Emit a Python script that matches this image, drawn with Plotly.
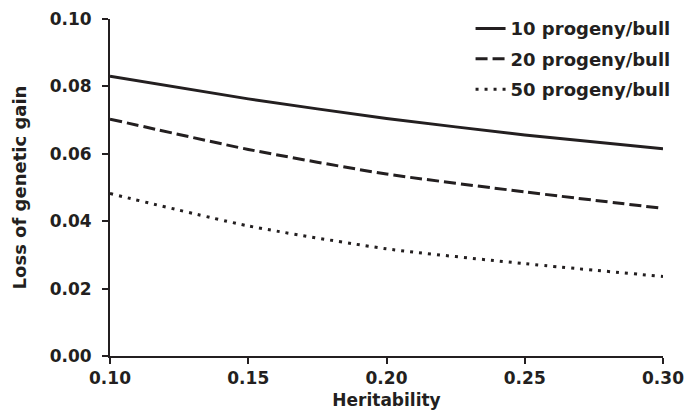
import plotly.graph_objects as go

heritability = [0.10, 0.15, 0.20, 0.25, 0.30]
loss_10 = [0.0830, 0.0763, 0.0705, 0.0656, 0.0615]
loss_20 = [0.0703, 0.0613, 0.0540, 0.0487, 0.0438]
loss_50 = [0.0482, 0.0386, 0.0318, 0.0274, 0.0236]
series_names = ["10 progeny/bull", "20 progeny/bull", "50 progeny/bull"]
x_ticks = [0.10, 0.15, 0.20, 0.25, 0.30]
y_ticks = [0.00, 0.02, 0.04, 0.06, 0.08, 0.10]

ink = "#231f20"
font_family = "DejaVu Sans, Liberation Sans, Arial, sans-serif"

fig = go.Figure()
styles = ["solid", "12px,5px", "3px,6px"]
for i, (name, vals, dash) in enumerate(zip(series_names, [loss_10, loss_20, loss_50], styles)):
    fig.add_trace(go.Scatter(
        x=heritability, y=vals, name=name, mode="lines", legendgroup=f"g{i}",
        line=dict(color=ink, width=3, dash=dash, shape="spline", smoothing=0.6),
    ))

fig.update_layout(
    width=685, height=414,
    margin=dict(l=110, r=22, t=19, b=58, autoexpand=False),
    plot_bgcolor="white", paper_bgcolor="white",
    font=dict(family=font_family, color=ink, size=17, weight="bold"),
    showlegend=True,
    legend=dict(
        x=0.652, y=1.026, xanchor="left", yanchor="top",
        font=dict(size=18, weight="bold", family=font_family, color=ink),
        bgcolor="rgba(0,0,0,0)", itemwidth=30, tracegroupgap=4,
    ),
)
fig.update_xaxes(
    range=[0.10, 0.30], tickvals=x_ticks, tickformat=".2f",
    showline=True, linecolor=ink, linewidth=2,
    ticks="outside", ticklen=6, tickwidth=2, tickcolor=ink,
    showgrid=False, zeroline=False, automargin=False,
    tickfont=dict(size=17, weight="bold"),
    title=dict(text="Heritability", font=dict(size=17, weight="bold"), standoff=7),
)
fig.update_yaxes(
    range=[0, 0.10], tickvals=y_ticks, tickformat=".2f",
    showline=True, linecolor=ink, linewidth=2,
    ticks="outside", ticklen=6, tickwidth=2, tickcolor=ink,
    showgrid=False, zeroline=False, automargin=False,
    ticklabelstandoff=7,
    tickfont=dict(size=17, weight="bold"),
    title=dict(text="Loss of genetic gain", font=dict(size=18, weight="bold"), standoff=18),
)

fig.write_html("out.html", config={"displayModeBar": False},
               post_script="document.body.style.margin='0';")
